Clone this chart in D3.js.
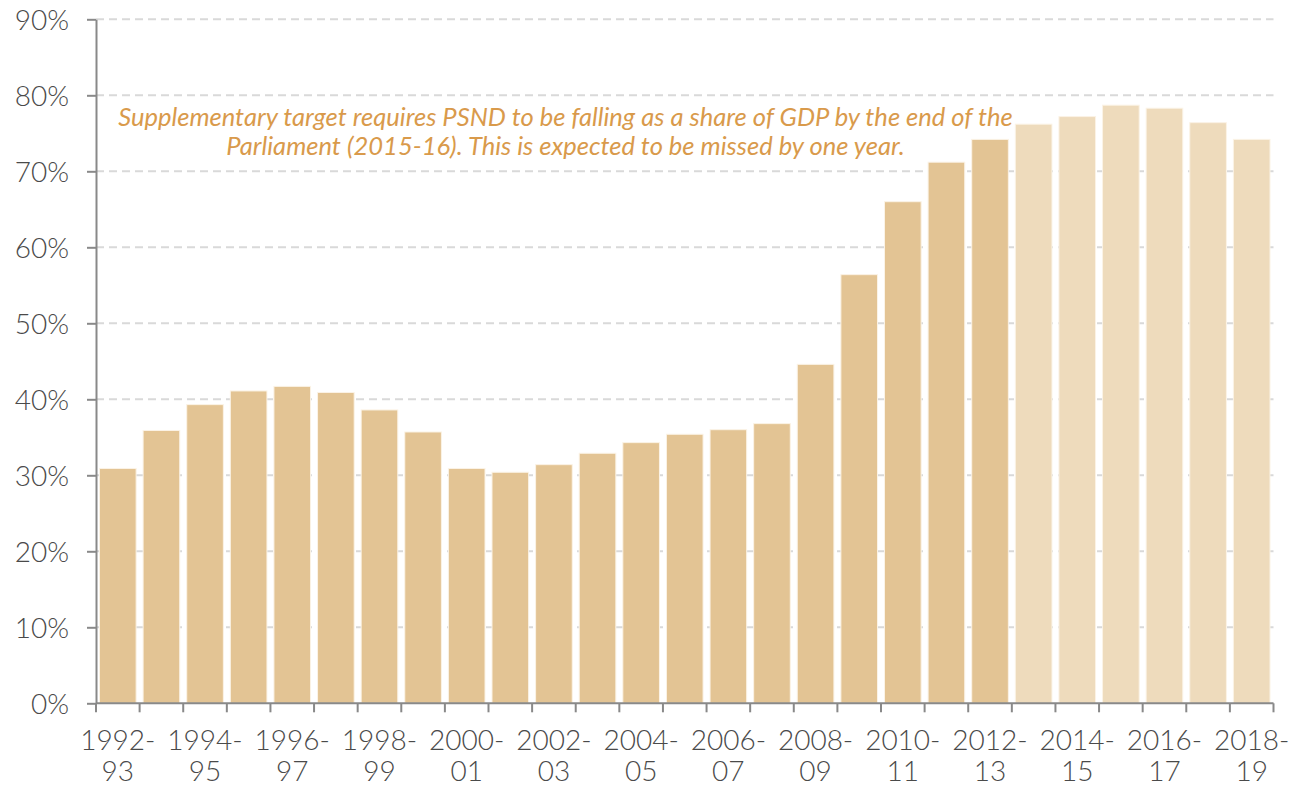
<!DOCTYPE html>
<html>
<head>
<meta charset="utf-8">
<script src="https://cdn.jsdelivr.net/npm/d3@7"></script>
<style>
  html, body { margin: 0; padding: 0; background: #fff; }
  svg { display: block; }
</style>
</head>
<body>
<svg id="chart" width="1301" height="787"></svg>
<script>
const categories = ["1992-93","1993-94","1994-95","1995-96","1996-97","1997-98","1998-99","1999-00",
  "2000-01","2001-02","2002-03","2003-04","2004-05","2005-06","2006-07","2007-08","2008-09",
  "2009-10","2010-11","2011-12","2012-13","2013-14","2014-15","2015-16","2016-17","2017-18","2018-19"];
const values = [30.9, 35.9, 39.3, 41.1, 41.7, 40.9, 38.6, 35.7, 30.9, 30.4, 31.4, 32.9, 34.3, 35.4,
  36.0, 36.8, 44.6, 56.4, 66.0, 71.2, 74.2, 76.2, 77.2, 78.7, 78.3, 76.4, 74.2];
const forecastFrom = "2013-14";
const yTicks = [0, 10, 20, 30, 40, 50, 60, 70, 80, 90];
const annotationLines = [
  "Supplementary target requires PSND to be falling as a share of GDP by the end of the",
  "Parliament (2015-16). This is expected to be missed by one year."
];

const svg = d3.select("#chart");
const margin = { left: 96, right: 1273.5, top: 19.3, bottom: 703.3 };

const x = d3.scaleBand().domain(categories).range([margin.left, margin.right]).paddingInner(0.16).paddingOuter(0.08);
const y = d3.scaleLinear().domain([0, 90]).range([margin.bottom, margin.top]);

const axisColor = "#898989";
const textColor = "#4a4a4a";
const tickFont = "Lato, 'Open Sans', sans-serif";

// gridlines
svg.append("g").selectAll("line").data(yTicks.filter(d => d > 0)).join("line")
  .attr("x1", margin.left).attr("x2", margin.right)
  .attr("y1", d => y(d)).attr("y2", d => y(d))
  .attr("stroke", "#d9d9d9").attr("stroke-width", 2).attr("stroke-dasharray", "8,5");

// bars
const fi = categories.indexOf(forecastFrom);
svg.append("g").selectAll("rect").data(values).join("rect")
  .attr("x", (d, i) => x(categories[i]))
  .attr("width", x.bandwidth())
  .attr("y", d => y(d))
  .attr("height", d => y(0) - y(d))
  .attr("fill", (d, i) => i >= fi ? "#eedbbc" : "#e3c494")
  .attr("stroke", "#fbf3e6").attr("stroke-width", 1);

// y axis
const yAxis = svg.append("g").attr("transform", `translate(${margin.left},0)`)
  .call(d3.axisLeft(y).tickValues(yTicks).tickFormat(d => d + "%").tickSize(9).tickPadding(18).tickSizeOuter(0));
yAxis.select(".domain").attr("stroke", axisColor).attr("stroke-width", 2);
yAxis.selectAll(".tick line").attr("stroke", axisColor).attr("stroke-width", 2);
yAxis.selectAll(".tick text").attr("fill", textColor).style("font-family", tickFont)
  .style("font-weight", 300).style("font-size", "28px").attr("dy", "0.36em");

// x axis: ticks at band boundaries
const boundaries = d3.range(categories.length + 1).map(i => margin.left + i * (margin.right - margin.left) / categories.length);
const xg = svg.append("g");
xg.append("line").attr("x1", margin.left).attr("x2", margin.right).attr("y1", margin.bottom).attr("y2", margin.bottom)
  .attr("stroke", axisColor).attr("stroke-width", 2);
xg.selectAll("line.tk").data(boundaries).join("line").attr("class", "tk")
  .attr("x1", d => d).attr("x2", d => d).attr("y1", margin.bottom).attr("y2", margin.bottom + 9)
  .attr("stroke", axisColor).attr("stroke-width", 2);
const labels = xg.selectAll("text").data(categories.filter((c, i) => i % 2 === 0)).join("text")
  .attr("text-anchor", "middle")
  .attr("fill", textColor).style("font-family", tickFont).style("font-weight", 300).style("font-size", "28px");
labels.append("tspan").attr("x", d => x(d) + x.bandwidth() / 2).attr("y", 750).text(d => d.split("-")[0] + "-");
labels.append("tspan").attr("x", d => x(d) + x.bandwidth() / 2).attr("y", 781).text(d => d.split("-")[1]);

// annotation
const ann = svg.append("g");
const annCenter = 565.5;
const annY = [126, 155];
const t1 = ann.selectAll("text").data(annotationLines).join("text")
  .attr("x", annCenter).attr("y", (d, i) => annY[i])
  .attr("text-anchor", "middle")
  .attr("fill", "#d99a4b")
  .style("font-family", "Lato, 'Noto Sans', sans-serif")
  .style("font-style", "italic")
  .style("font-size", "20px")
  .text(d => d);
const w = t1.nodes()[0].getComputedTextLength();
const fs = 20 * 895 / w;
t1.style("font-size", fs + "px");
</script>
</body>
</html>
